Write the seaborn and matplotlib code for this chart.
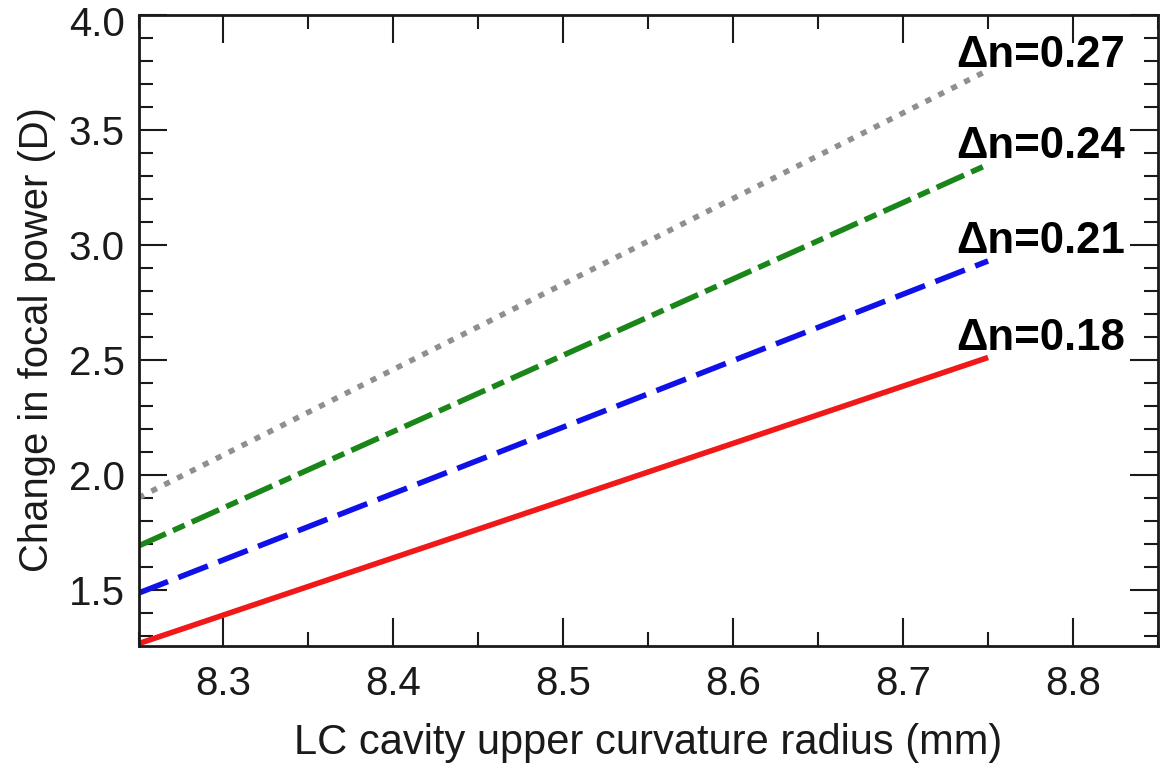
import matplotlib
matplotlib.use("Agg")
import matplotlib.pyplot as plt
import seaborn as sns
import pandas as pd

# Curvature radius range (mm) and focal-power change (D) for each birefringence
radius = [8.25, 8.75]
delta_n = ["0.18", "0.21", "0.24", "0.27"]
power_018 = [1.265, 2.51]
power_021 = [1.485, 2.93]
power_024 = [1.69, 3.35]
power_027 = [1.90, 3.76]

x_ticks = [8.3, 8.4, 8.5, 8.6, 8.7, 8.8]
x_tick_labels = ["8.3", "8.4", "8.5", "8.6", "8.7", "8.8"]
y_ticks = [1.5, 2.0, 2.5, 3.0, 3.5, 4.0]
y_tick_labels = ["1.5", "2.0", "2.5", "3.0", "3.5", "4.0"]

series = {
    "0.18": power_018,
    "0.21": power_021,
    "0.24": power_024,
    "0.27": power_027,
}
df = pd.DataFrame(
    [(r, p, dn) for dn, vals in series.items() for r, p in zip(radius, vals)],
    columns=["radius", "power", "dn"],
)

sns.set_theme(style="ticks")
plt.rcParams["font.family"] = ["Liberation Sans", "DejaVu Sans"]

ink = "#1a1a1a"
palette = {"0.18": "#f01818", "0.21": "#1010e8", "0.24": "#1a861a", "0.27": "#8f8f8f"}
dashes = {"0.18": "", "0.21": (5.7, 2.0), "0.24": (5.4, 1.4, 2.3, 1.4), "0.27": (1.1, 1.5)}

fig = plt.figure(figsize=(11.61, 7.63), dpi=100)
ax = fig.add_axes([0.1193, 0.1534, 0.8781, 0.8269])

sns.lineplot(
    data=df, x="radius", y="power", hue="dn", style="dn",
    palette=palette, dashes=dashes, linewidth=4.0, legend=False, ax=ax,
)
for line in ax.get_lines():
    line.set_dash_capstyle("butt")
    line.set_solid_capstyle("butt")

# Series labels at the right end of each line (baseline positions)
label_y = {"0.18": 2.543, "0.21": 2.965, "0.24": 3.378, "0.27": 3.774}
for dn in delta_n:
    ax.text(8.7315, label_y[dn], f"Δn={dn}", fontsize=31.5, fontweight="bold",
            ha="left", va="baseline", color="black")

ax.set_xlim(8.25, 8.85)
ax.set_ylim(1.255, 4.0)
ax.set_xticks(x_ticks, labels=x_tick_labels)
ax.set_xticks([8.25, 8.35, 8.45, 8.55, 8.65, 8.75, 8.85], minor=True)
# the top label is drawn separately, nudged below the frame edge
ax.set_yticks(y_ticks, labels=y_tick_labels[:-1] + [""])
ax.set_yticks([1.3, 1.4, 1.6, 1.7, 1.8, 1.9, 2.1, 2.2, 2.3, 2.4, 2.6, 2.7, 2.8, 2.9,
               3.1, 3.2, 3.3, 3.4, 3.6, 3.7, 3.8, 3.9], minor=True)
ax.annotate(y_tick_labels[-1], xy=(0, 1), xycoords="axes fraction",
            xytext=(-14, -10), textcoords="offset pixels",
            ha="right", va="center", fontsize=29, color=ink)

ax.tick_params(which="both", direction="in", top=True, right=True,
               labelsize=29, colors=ink, width=1.5)
ax.tick_params(which="major", length=20)
ax.tick_params(which="minor", length=10)
ax.tick_params(axis="x", which="major", pad=14)
ax.tick_params(axis="y", which="major", pad=10)
for s in ax.spines.values():
    s.set_linewidth(2.0)
    s.set_color(ink)
    s.set_visible(True)

ax.set_xlabel("LC cavity upper curvature radius (mm)", fontsize=30, color=ink)
ax.set_ylabel("Change in focal power (D)", fontsize=28.8, color=ink)
ax.xaxis.set_label_coords(0.5, -0.122)
ax.yaxis.set_label_coords(-0.081, 0.486)

fig.savefig("out.png", dpi=100)
